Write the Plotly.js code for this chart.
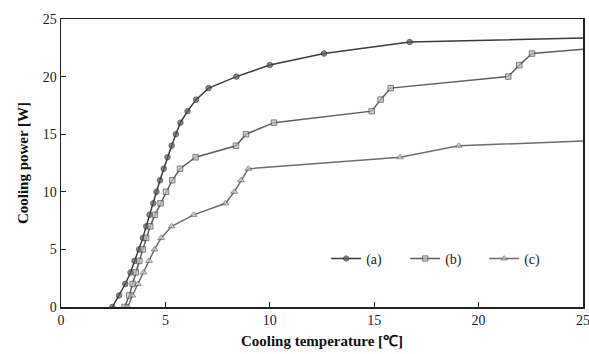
<!DOCTYPE html>
<html>
<head>
<meta charset="utf-8">
<script src="https://cdn.plot.ly/plotly-3.0.1.min.js"></script>
<style>html,body{margin:0;padding:0;background:#fff;}#chart{width:589px;height:354px;}</style>
</head>
<body>
<div id="chart"></div>
<script>
// Series (a)
const aTemp = [2.46, 2.78, 3.08, 3.33, 3.52, 3.74, 3.92, 4.08, 4.24, 4.42, 4.57, 4.74, 4.92, 5.10, 5.30, 5.50, 5.72, 6.06, 6.47, 7.07, 8.4, 10.0, 12.6, 16.7, 25];
const aPower = [0, 1, 2, 3, 4, 5, 6, 7, 8, 9, 10, 11, 12, 13, 14, 15, 16, 17, 18, 19, 20, 21, 22, 23, 23.35];
// Series (b)
const bTemp = [3.05, 3.27, 3.43, 3.58, 3.75, 3.92, 4.08, 4.27, 4.50, 4.77, 5.03, 5.33, 5.70, 6.45, 8.38, 8.86, 10.2, 14.88, 15.31, 15.79, 21.42, 21.95, 22.56, 25];
const bPower = [0, 1, 2, 3, 4, 5, 6, 7, 8, 9, 10, 11, 12, 13, 14, 15, 16, 17, 18, 19, 20, 21, 22, 22.37];
// Series (c)
const cTemp = [3.2, 3.42, 3.68, 3.95, 4.22, 4.48, 4.8, 5.3, 6.35, 7.88, 8.3, 8.62, 8.97, 16.24, 19.05, 25];
const cPower = [0, 1, 2, 3, 4, 5, 6, 7, 8, 9, 10, 11, 12, 13, 14, 14.4];

const seriesNames = ['(a)', '(b)', '(c)'];
const xTicks = [0, 5, 10, 15, 20, 25];
const yTicks = [0, 5, 10, 15, 20, 25];

function sizes(n, s) { const arr = new Array(n).fill(s); arr[n - 1] = 0; return arr; }

const serif = 'Liberation Serif, Times New Roman, serif';

const traces = [
  {x: aTemp, y: aPower, name: seriesNames[0], mode: 'lines+markers',
   line: {color: '#3c3c3c', width: 1.5},
   marker: {symbol: 'circle', size: sizes(aTemp.length, 5.5), color: '#5a5a5a', line: {color: '#2a2a2a', width: 1}}},
  {x: bTemp, y: bPower, name: seriesNames[1], mode: 'lines+markers',
   line: {color: '#5e5e5e', width: 1.5},
   marker: {symbol: 'square', size: sizes(bTemp.length, 5.5), color: '#bdbdbd', line: {color: '#4a4a4a', width: 1}}},
  {x: cTemp, y: cPower, name: seriesNames[2], mode: 'lines+markers',
   line: {color: '#6e6e6e', width: 1.5},
   marker: {symbol: 'triangle-up', size: sizes(cTemp.length, 6), color: '#d0d0d0', line: {color: '#606060', width: 1}}}
];

const layout = {
  width: 589, height: 354,
  margin: {l: 61, r: 6, t: 19, b: 47},
  paper_bgcolor: '#fff', plot_bgcolor: '#fff',
  font: {family: serif, size: 14, color: '#222'},
  showlegend: true,
  legend: {orientation: 'h', x: 0.508, xanchor: 'left', y: 0.167, yanchor: 'middle',
           bgcolor: 'rgba(0,0,0,0)', font: {family: serif, size: 14, color: '#222'},
           entrywidth: 34, entrywidthmode: 'pixels'},
  xaxis: {range: [0, 25], tickvals: xTicks, ticks: 'inside', ticklen: 5, tickwidth: 1, tickcolor: '#222',
          showline: true, linecolor: '#222', linewidth: 1.5, mirror: true, showgrid: false, zeroline: false,
          ticklabeloverflow: 'allow',
          tickfont: {family: serif, size: 14, color: '#222'},
          title: {text: 'Cooling temperature [\u2103]', font: {family: serif, size: 15, color: '#111', weight: 'bold'}, standoff: 8}},
  yaxis: {range: [0, 25], tickvals: yTicks, ticks: 'inside', ticklen: 5, tickwidth: 1, tickcolor: '#222',
          showline: true, linecolor: '#222', linewidth: 1.5, mirror: true, showgrid: false, zeroline: false,
          tickfont: {family: serif, size: 14, color: '#222'},
          title: {text: 'Cooling power [W]', font: {family: serif, size: 15, color: '#111', weight: 'bold'}, standoff: 10}}
};

Plotly.newPlot('chart', traces, layout, {displayModeBar: false, staticPlot: true});
</script>
</body>
</html>
